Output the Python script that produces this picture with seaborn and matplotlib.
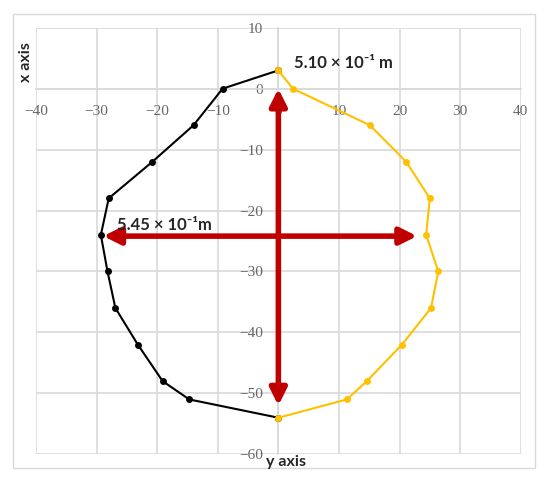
import matplotlib
matplotlib.use("Agg")
import seaborn as sns
from matplotlib import pyplot as plt
from matplotlib.patches import FancyArrowPatch, Rectangle

# vertical position (labelled "x axis" in the chart)
x_pos = [3, 0, -6, -12, -18, -24, -30, -36, -42, -48, -51, -54]
# horizontal position (labelled "y axis") for the two halves of the outline
y_black = [0, -9.2, -14.0, -20.8, -28.0, -29.3, -28.2, -26.9, -23.2, -19.1, -14.7, 0]
y_yellow = [0, 2.4, 15.1, 21.1, 25.0, 24.4, 26.4, 25.2, 20.4, 14.6, 11.3, 0]

# dimension arrows: (start, end) in data units
arrow_v = [(0, 0), (0, -52)]
arrow_h = [(-28.9, -24.2), (22.9, -24.2)]
label_v = '5.10 × 10⁻¹ m'
label_h = '5.45 × 10⁻¹m'

sns.set_style('white')
plt.rcParams['font.family'] = ['Lato', 'DejaVu Sans']

GRID = '#d9d9d9'
RED = '#c00000'

fig = plt.figure(figsize=(5.5, 4.82), dpi=100)
# light frame around the whole chart
fig.patches.append(Rectangle((0.0236, 0.0297), 0.95, 0.9413, transform=fig.transFigure,
                             fill=False, edgecolor=GRID, linewidth=1))

ax = fig.add_axes([0.0655, 0.0575, 0.8812, 0.885])
ax.set_axisbelow(True)

sns.lineplot(x=y_black, y=x_pos, sort=False, estimator=None, color='black', lw=1.5,
             marker='o', markersize=5, markeredgewidth=0, ax=ax, zorder=3)
sns.lineplot(x=y_yellow, y=x_pos, sort=False, estimator=None, color='#ffc000', lw=1.5,
             marker='o', markersize=5, markeredgewidth=0, ax=ax, zorder=4)

ax.set_xlim(-40, 40)
ax.set_ylim(-60, 10)
ax.set_xticks(range(-40, 41, 10))
ax.set_yticks(range(-60, 11, 10))
ax.grid(True, color=GRID, lw=1.2)
for ln in ax.get_xgridlines() + ax.get_ygridlines():
    ln.set_clip_on(False)

for side in ['top', 'right']:
    ax.spines[side].set_visible(False)
ax.spines['left'].set_position(('data', 0))
ax.spines['bottom'].set_position(('data', 0))
for side in ['left', 'bottom']:
    ax.spines[side].set_color(GRID)
    ax.spines[side].set_linewidth(1.2)
    ax.spines[side].set_zorder(0.6)

ax.tick_params(length=0, labelcolor='#666666', labelsize=11)
ax.tick_params(axis='x', pad=12)
ax.tick_params(axis='y', pad=11)
for lab in ax.get_xticklabels() + ax.get_yticklabels():
    lab.set_family('Liberation Serif')

for (p0, p1) in [arrow_v, arrow_h]:
    arr = FancyArrowPatch(p0, p1, arrowstyle='<|-|>,head_length=10,head_width=5',
                          mutation_scale=1, color=RED, lw=4, shrinkA=0, shrinkB=0, zorder=2)
    ax.add_patch(arr)

ax.text(2.6, 4.2, label_v, ha='left', va='center', fontsize=12, fontweight='bold')
ax.text(-26.6, -22.3, label_h, ha='left', va='center', fontsize=12, fontweight='bold')

fig.text(0.048, 0.871, 'x axis', rotation=90, ha='center', va='center', fontsize=11.5, fontweight='bold')
fig.text(0.52, 0.0415, 'y axis', ha='center', va='center', fontsize=11.5, fontweight='bold')

plt.savefig('out.png', dpi=100)
